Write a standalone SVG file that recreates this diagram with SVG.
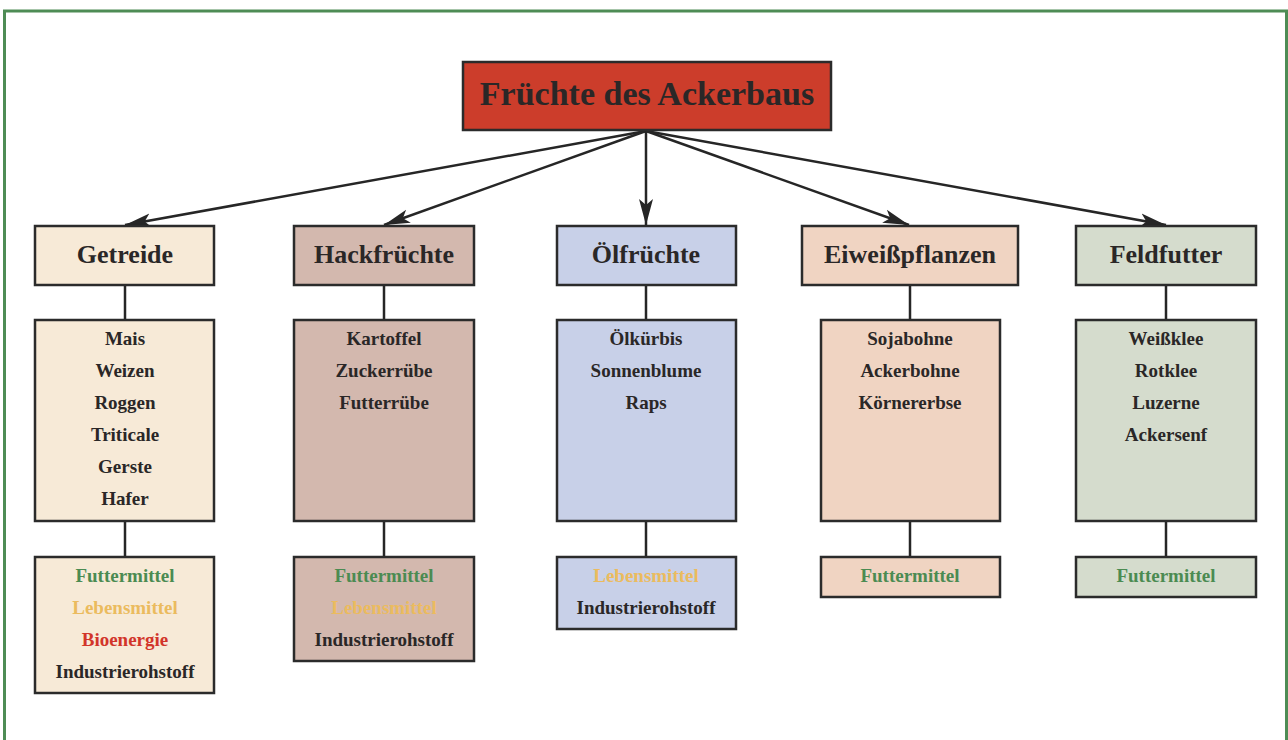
<svg xmlns="http://www.w3.org/2000/svg" width="1288" height="740" viewBox="0 0 1288 740">
<style>
.box{stroke:#2b2b2b;stroke-width:2.5}
.conn{stroke:#262626;stroke-width:2.5;fill:none}
text{font-family:"Liberation Serif","Times New Roman",serif;font-weight:bold;text-anchor:middle;fill:#2a2727}
.title{font-size:34px}
.cat{font-size:26px}
.item{font-size:19px}
.g{fill:#4b8b52}
.y{fill:#ebbb5e}
.r{fill:#d2352a}
.c1{fill:#f7ead7}
.c2{fill:#d3b8ae}
.c3{fill:#c8d0e8}
.c4{fill:#f0d4c2}
.c5{fill:#d5dccd}
</style>
<defs>
<marker id="ah" markerUnits="userSpaceOnUse" markerWidth="28" markerHeight="16" refX="26" refY="7" orient="auto" viewBox="0 0 28 14">
<path d="M0,0 L26,7 L0,14 L6,7 Z" fill="#262626"/>
</marker>
</defs>
<rect x="0" y="0" width="1288" height="740" fill="#ffffff"/>
<rect x="4.5" y="11" width="1282" height="740" fill="none" stroke="#4e8c55" stroke-width="3"/>

<g id="connectors">
<line class="conn" x1="646" y1="131" x2="125" y2="225" marker-end="url(#ah)"/>
<line class="conn" x1="646" y1="131" x2="384" y2="225" marker-end="url(#ah)"/>
<line class="conn" x1="646" y1="131" x2="646" y2="225" marker-end="url(#ah)"/>
<line class="conn" x1="646" y1="131" x2="909" y2="225" marker-end="url(#ah)"/>
<line class="conn" x1="646" y1="131" x2="1166" y2="225" marker-end="url(#ah)"/>
<line class="conn" x1="125" y1="285" x2="125" y2="320"/>
<line class="conn" x1="125" y1="521" x2="125" y2="557"/>
<line class="conn" x1="384" y1="285" x2="384" y2="320"/>
<line class="conn" x1="384" y1="521" x2="384" y2="557"/>
<line class="conn" x1="646" y1="285" x2="646" y2="320"/>
<line class="conn" x1="646" y1="521" x2="646" y2="557"/>
<line class="conn" x1="910" y1="285" x2="910" y2="320"/>
<line class="conn" x1="910" y1="521" x2="910" y2="557"/>
<line class="conn" x1="1166" y1="285" x2="1166" y2="320"/>
<line class="conn" x1="1166" y1="521" x2="1166" y2="557"/>
</g>

<g id="root">
<rect class="box" x="463" y="62" width="368" height="68" fill="#cc3d2b"/>
<text class="title" x="647" y="105">Früchte des Ackerbaus</text>
</g>

<g id="getreide">
<rect class="box c1" x="35" y="226" width="179" height="59"/>
<text class="cat" x="125" y="263">Getreide</text>
</g>
<g id="getreide-items">
<rect class="box c1" x="35" y="320" width="179" height="201"/>
<text class="item" x="125" y="345">Mais</text>
<text class="item" x="125" y="377">Weizen</text>
<text class="item" x="125" y="409">Roggen</text>
<text class="item" x="125" y="441">Triticale</text>
<text class="item" x="125" y="473">Gerste</text>
<text class="item" x="125" y="505">Hafer</text>
</g>
<g id="getreide-use">
<rect class="box c1" x="35" y="557" width="179" height="136"/>
<text class="item g" x="125" y="582">Futtermittel</text>
<text class="item y" x="125" y="614">Lebensmittel</text>
<text class="item r" x="125" y="646">Bioenergie</text>
<text class="item" x="125" y="678">Industrierohstoff</text>
</g>

<g id="hack">
<rect class="box c2" x="294" y="226" width="180" height="59"/>
<text class="cat" x="384" y="263">Hackfrüchte</text>
</g>
<g id="hack-items">
<rect class="box c2" x="294" y="320" width="180" height="201"/>
<text class="item" x="384" y="345">Kartoffel</text>
<text class="item" x="384" y="377">Zuckerrübe</text>
<text class="item" x="384" y="409">Futterrübe</text>
</g>
<g id="hack-use">
<rect class="box c2" x="294" y="557" width="180" height="104"/>
<text class="item g" x="384" y="582">Futtermittel</text>
<text class="item y" x="384" y="614">Lebensmittel</text>
<text class="item" x="384" y="646">Industrierohstoff</text>
</g>

<g id="oel">
<rect class="box c3" x="557" y="226" width="179" height="59"/>
<text class="cat" x="646" y="263">Ölfrüchte</text>
</g>
<g id="oel-items">
<rect class="box c3" x="557" y="320" width="179" height="201"/>
<text class="item" x="646" y="345">Ölkürbis</text>
<text class="item" x="646" y="377">Sonnenblume</text>
<text class="item" x="646" y="409">Raps</text>
</g>
<g id="oel-use">
<rect class="box c3" x="557" y="557" width="179" height="72"/>
<text class="item y" x="646" y="582">Lebensmittel</text>
<text class="item" x="646" y="614">Industrierohstoff</text>
</g>

<g id="eiweiss">
<rect class="box c4" x="802" y="226" width="216" height="59"/>
<text class="cat" x="910" y="263">Eiweißpflanzen</text>
</g>
<g id="eiweiss-items">
<rect class="box c4" x="821" y="320" width="179" height="201"/>
<text class="item" x="910" y="345">Sojabohne</text>
<text class="item" x="910" y="377">Ackerbohne</text>
<text class="item" x="910" y="409">Körnererbse</text>
</g>
<g id="eiweiss-use">
<rect class="box c4" x="821" y="557" width="179" height="40"/>
<text class="item g" x="910" y="582">Futtermittel</text>
</g>

<g id="feld">
<rect class="box c5" x="1076" y="226" width="180" height="59"/>
<text class="cat" x="1166" y="263">Feldfutter</text>
</g>
<g id="feld-items">
<rect class="box c5" x="1076" y="320" width="180" height="201"/>
<text class="item" x="1166" y="345">Weißklee</text>
<text class="item" x="1166" y="377">Rotklee</text>
<text class="item" x="1166" y="409">Luzerne</text>
<text class="item" x="1166" y="441">Ackersenf</text>
</g>
<g id="feld-use">
<rect class="box c5" x="1076" y="557" width="180" height="40"/>
<text class="item g" x="1166" y="582">Futtermittel</text>
</g>
</svg>
